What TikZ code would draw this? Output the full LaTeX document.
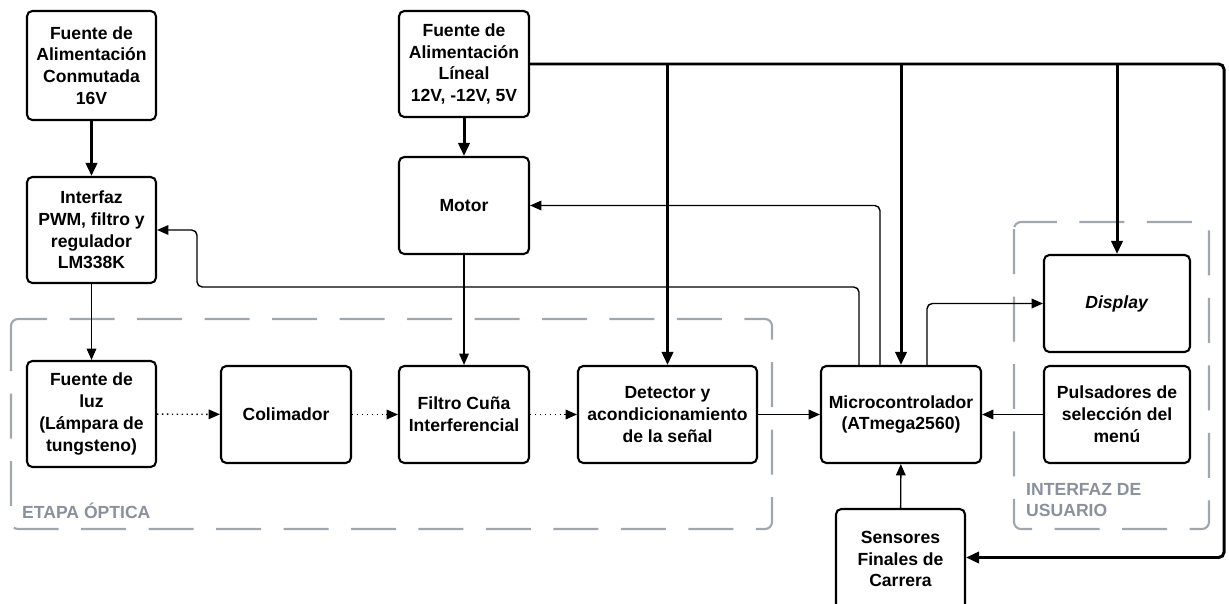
\documentclass[tikz,border=0pt]{standalone}
\usepackage{fontspec}
\setmainfont{Liberation Sans}
\usetikzlibrary{arrows.meta}
\definecolor{grupo}{RGB}{160,166,174}
\definecolor{grupotxt}{RGB}{138,145,156}

\begin{document}
\begin{tikzpicture}[x=0.02cm, y=-0.02cm,
    bloque/.style={draw, line width=1.2pt, rounded corners=3pt, fill=white,
        align=center, inner sep=0pt,
        font=\fontsize{10}{12.4}\selectfont\bfseries},
    punta/.style={-{Triangle[length=6.5pt, width=5.5pt]}},
    senal/.style={punta, line width=0.8pt, rounded corners=3pt},
    bus/.style={-{Triangle[length=7.5pt, width=6.5pt]}, line width=1.7pt, rounded corners=3pt},
    optico/.style={punta, line width=0.8pt, dotted},
    grupo/.style={draw=grupo, line width=1.2pt, rounded corners=4pt,
        dash pattern=on 0.9cm off 0.45cm},
    etiqueta/.style={text=grupotxt, anchor=west, align=left,
        font=\fontsize{10}{12.4}\selectfont\bfseries}]
        \useasboundingbox (0,0) rectangle (1229,604);

        % Etapas (recuadros punteados)
        \draw[grupo] (11,319) rectangle (772,529);
        \node[etiqueta] (lblOptica) at (16,511) {ETAPA ÓPTICA};
        \draw[grupo] (1014,222) rectangle (1209,529);
        \node[etiqueta] (lblUsuario) at (1020,500) {INTERFAZ DE\\USUARIO};

        % Fuentes de alimentacion
        \node[bloque, minimum width=2.58cm, minimum height=2.18cm] (fuenteSw) at (91.5,65.5)
            {Fuente de\\Alimentación\\Conmutada\\16V};
        \node[bloque, minimum width=2.6cm, minimum height=2.12cm] (fuenteLin) at (464,64)
            {Fuente de\\Alimentación\\Líneal\\12V, -12V, 5V};

        % Bloques de potencia y mecanica
        \node[bloque, minimum width=2.58cm, minimum height=2.12cm] (pwm) at (91.5,230)
            {Interfaz\\PWM, filtro y\\regulador\\LM338K};
        \node[bloque, minimum width=2.6cm, minimum height=1.94cm] (motor) at (464,205.5) {Motor};

        % Etapa optica
        \node[bloque, minimum width=2.58cm, minimum height=2.12cm] (luz) at (91.5,414)
            {Fuente de\\luz\\(Lámpara de\\tungsteno)};
        \node[bloque, minimum width=2.6cm, minimum height=1.94cm] (colim) at (286,414.5) {Colimador};
        \node[bloque, minimum width=2.6cm, minimum height=1.94cm] (filtro) at (464,414.5)
            {Filtro Cuña\\Interferencial};
        \node[bloque, minimum width=3.58cm, minimum height=1.94cm] (detector) at (667.5,414.5)
            {Detector y\\acondicionamiento\\de la señal};

        % Control
        \node[bloque, minimum width=3.2cm, minimum height=1.94cm] (micro) at (901,414.5)
            {Microcontrolador\\(ATmega2560)};
        \node[bloque, minimum width=2.58cm, minimum height=2.0cm] (sensores) at (900.5,559)
            {Sensores\\Finales de\\Carrera};

        % Interfaz de usuario
        \node[bloque, minimum width=2.92cm, minimum height=1.94cm] (display) at (1117,303.5)
            {\textit{Display}};
        \node[bloque, minimum width=2.92cm, minimum height=1.94cm] (pulsa) at (1117,414.5)
            {Pulsadores de\\selección del\\menú};

        % Alimentacion
        \draw[bus] (fuenteSw) -- (pwm);
        \draw[bus] (fuenteLin) -- (motor);
        \coordinate (esq) at (1224,64);
        \draw[bus] (fuenteLin.east) -- (esq) |- ([yshift=0.03cm]sensores.east);
        \draw[bus] (fuenteLin.east -| detector.north) -- (detector.north);
        \draw[bus] (fuenteLin.east -| micro.north) -- (micro.north);
        \draw[bus] (fuenteLin.east -| display.north) -- (display.north);

        % Senales
        \draw[senal] (pwm) -- (luz);
        \draw[senal] (motor) -- (filtro);
        \draw[senal] (detector) -- (micro);
        \draw[senal] (pulsa) -- (micro);
        \draw[senal] (sensores) -- (micro);
        \draw[senal] ([xshift=-0.42cm]micro.north) |- (motor.east);
        \draw[senal] ([xshift=-0.84cm]micro.north) |- (197,287) |- (pwm.east);
        \draw[senal] ([xshift=0.52cm]micro.north) |- (display.west);

        % Camino de la luz
        \draw[optico] (luz) -- (colim);
        \draw[optico] (colim) -- (filtro);
        \draw[optico] (filtro) -- (detector);
    \end{tikzpicture}
\end{document}
